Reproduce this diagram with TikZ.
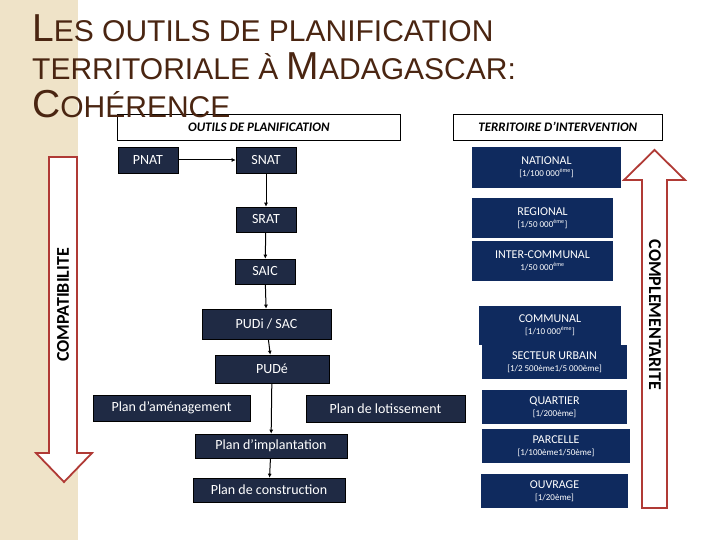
\documentclass[tikz,border=0pt]{standalone}
\usepackage{fontspec}
\setmainfont{Carlito}
\newfontfamily\titlefont{Liberation Sans}
\usetikzlibrary{arrows.meta}
\definecolor{beige}{HTML}{EFE3C8}
\definecolor{tbrown}{HTML}{4A2511}
\definecolor{lbox}{HTML}{1F2A44}
\definecolor{rbox}{HTML}{0F2A5E}
\definecolor{arrred}{HTML}{B03A35}
\newcommand{\scl}{\fontsize{9}{10}\selectfont}
\begin{document}
\begin{tikzpicture}[x=1pt,y=-1pt,
  lb/.style={fill=lbox,draw=black,line width=0.6pt,text=white,font=\fontsize{14}{15}\selectfont},
  rb/.style={fill=rbox,text=white,align=center,font=\fontsize{12}{13}\selectfont},
  hd/.style={draw=black,line width=0.6pt,font=\fontsize{13}{14}\selectfont\bfseries\itshape},
  con/.style={line width=1pt,-{Latex[length=4pt,width=4pt]}}]
\useasboundingbox (0,0) rectangle (720,540);
\fill[white] (0,0) rectangle (720,540);
\fill[beige] (0,0) rectangle (78,540);
% headers
\node[hd,minimum width=283,minimum height=26,anchor=north west] (h1) at (117,114) {OUTILS DE PLANIFICATION};
\node[hd,minimum width=209,minimum height=26,anchor=north west] (h2) at (453,114) {TERRITOIRE D’INTERVENTION};
% title
\node[anchor=base west,text=tbrown,inner sep=0] (t1) at (32,42) {\titlefont\fontsize{39}{39}\selectfont L\fontsize{30}{30}\selectfont ES OUTILS DE PLANIFICATION};
\node[anchor=base west,text=tbrown,inner sep=0] (t2) at (32,80) {\titlefont\fontsize{30}{30}\selectfont TERRITORIALE À \fontsize{39}{39}\selectfont M\fontsize{30}{30}\selectfont ADAGASCAR:};
\node[anchor=base west,text=tbrown,inner sep=0] (t3) at (32,118) {\titlefont\fontsize{39}{39}\selectfont C\fontsize{30}{30}\selectfont OHÉRENCE};
% left boxes
\node[lb,minimum width=60,minimum height=26] (pnat) at (148,160) {PNAT};
\node[lb,minimum width=60,minimum height=26] (snat) at (266,160) {SNAT};
\node[lb,minimum width=60,minimum height=25] (srat) at (266,219.5) {SRAT};
\node[lb,minimum width=60,minimum height=25] (saic) at (265,271.5) {SAIC};
\node[lb,minimum width=129,minimum height=30] (pudi) at (266.5,324) {PUDi / SAC};
\node[lb,minimum width=114,minimum height=28] (pude) at (272,369) {PUDé};
\node[lb,minimum width=157,minimum height=26] (pam) at (171.5,408) {Plan d’aménagement};
\node[lb,minimum width=159,minimum height=27] (plot) at (385.5,408.5) {Plan de lotissement};
\node[lb,minimum width=152,minimum height=24] (pimp) at (271,446) {Plan d’implantation};
\node[lb,minimum width=152,minimum height=24] (pcon) at (269,490) {Plan de construction};
\draw[con] (pnat) -- (snat);
\draw[con] (snat) -- (srat);
\draw[con] (srat) -- (saic);
\draw[con] (saic) -- (pudi);
\draw[con] (pudi) -- (pude);
\draw[con] (pude) -- (pimp);
\draw[con] (pimp) -- (pcon);
% right boxes
\node[rb,minimum width=149,minimum height=41] (nat) at (546.5,167.5) {NATIONAL\\[-1pt]{\scl [1/100 000\textsuperscript{ème}]}};
\node[rb,minimum width=141,minimum height=40] (reg) at (542.5,218) {REGIONAL\\[-1pt]{\scl [1/50 000\textsuperscript{ème}]}};
\node[rb,minimum width=141,minimum height=40] (inter) at (542.5,261) {INTER-COMMUNAL\\[-1pt]{\scl 1/50 000\textsuperscript{ème}}};
\node[rb,minimum width=142,minimum height=39] (com) at (550,325.5) {COMMUNAL\\[-1pt]{\scl [1/10 000\textsuperscript{ème}]}};
\node[rb,minimum width=145,minimum height=34] (sect) at (554.5,362) {SECTEUR URBAIN\\[-1pt]{\scl [1/2 500ème1/5 000ème]}};
\node[rb,minimum width=145,minimum height=34] (quar) at (554.5,407) {QUARTIER\\[-1pt]{\scl [1/200ème]}};
\node[rb,minimum width=148,minimum height=34] (parc) at (556,446) {PARCELLE\\[-1pt]{\scl [1/100ème1/50ème]}};
\node[rb,minimum width=147,minimum height=34] (ouv) at (554.5,491) {OUVRAGE\\[-1pt]{\scl [1/20ème]}};
% arrows
\draw[arrred,line width=1.8pt,fill=white] (49,157) -- (77,157) -- (77,453) -- (92,453) -- (64,482) -- (36,453) -- (49,453) -- cycle;
\node[rotate=90,font=\fontsize{18}{18}\selectfont\bfseries] (compat) at (63,305) {COMPATIBILITE};
\draw[arrred,line width=1.8pt,fill=white] (642,508) -- (667,508) -- (667,180) -- (685,180) -- (654.5,150) -- (624,180) -- (642,180) -- cycle;
\node[rotate=-90,font=\fontsize{18}{18}\selectfont\bfseries] (compl) at (655,315) {COMPLEMENTARITE};
\end{tikzpicture}
\end{document}
